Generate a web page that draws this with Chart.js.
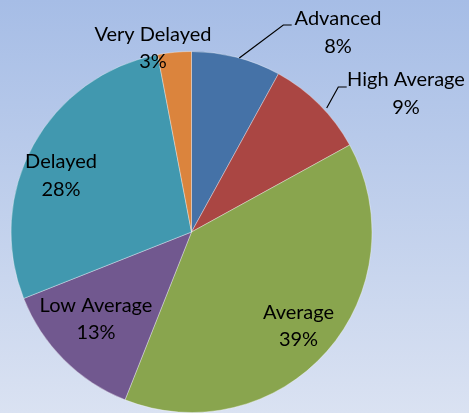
<!DOCTYPE html>
<html>
<head>
<meta charset="utf-8">
<script src="https://cdn.jsdelivr.net/npm/chart.js@4/dist/chart.umd.min.js"></script>
<style>
  html, body { margin: 0; padding: 0; background: #ffffff; }
  #wrap { width: 469px; height: 413px; }
</style>
</head>
<body>
<div id="wrap"><canvas id="c" width="469" height="413"></canvas></div>
<script>
// ---- data ----
const categories = ["Advanced", "High Average", "Average", "Low Average", "Delayed", "Very Delayed"];
const values = [8, 9, 39, 13, 28, 3];
const valueLabels = ["8%", "9%", "39%", "13%", "28%", "3%"];

// ---- styles ----
const sliceColors = ["#4572A7", "#AA4643", "#89A54E", "#71588F", "#4198AF", "#DB843D"];
// label centre offsets from pie centre (px) and optional leader lines
const labelLayout = [
  { dx: 146.5, dy: -199.5, leader: [[47.8, -174], [91.8, -207], [100.2, -207]] },
  { dx: 214.5, dy: -138.5, leader: [[135.2, -124], [146.8, -145], [155.2, -145]] },
  { dx: 107,   dy: 94 },
  { dx: -95.5, dy: 87 },
  { dx: -130.5, dy: -56.5 },
  { dx: -38.5, dy: -184 }
];
const labelFont = '20px Lato, "Open Sans", sans-serif';
const lineGap = 27.5;

const bgPlugin = {
  id: 'bg',
  beforeDraw(chart) {
    const ctx = chart.ctx;
    const g = ctx.createLinearGradient(0, 0, 0, chart.height);
    g.addColorStop(0, '#a6bde6');
    g.addColorStop(1, '#dae2f2');
    ctx.save();
    ctx.fillStyle = g;
    ctx.fillRect(0, 0, chart.width, chart.height);
    ctx.restore();
  }
};

const labelPlugin = {
  id: 'labels',
  afterDatasetsDraw(chart) {
    const ctx = chart.ctx;
    const arcs = chart.getDatasetMeta(0).data;
    ctx.save();
    arcs.forEach((arc, i) => {
      const cx = arc.x, cy = arc.y;
      const L = labelLayout[i];
      if (L.leader) {
        ctx.beginPath();
        ctx.strokeStyle = '#000000';
        ctx.lineWidth = 1.2;
        L.leader.forEach((p, k) => {
          if (k === 0) ctx.moveTo(cx + p[0], cy + p[1]);
          else ctx.lineTo(cx + p[0], cy + p[1]);
        });
        ctx.stroke();
      }
      ctx.fillStyle = '#000000';
      ctx.font = labelFont;
      ctx.textAlign = 'center';
      ctx.textBaseline = 'middle';
      const x = cx + L.dx, y = cy + L.dy;
      ctx.fillText(categories[i], x, y - lineGap / 2);
      ctx.fillText(valueLabels[i], x, y + lineGap / 2);
    });
    ctx.restore();
  }
};

new Chart(document.getElementById('c'), {
  type: 'pie',
  data: {
    labels: categories,
    datasets: [{
      data: values,
      backgroundColor: sliceColors,
      borderColor: 'rgba(255,255,255,0.35)',
      borderWidth: 1
    }]
  },
  options: {
    responsive: false,
    devicePixelRatio: 1,
    animation: false,
    layout: { padding: { left: 10, right: 96, top: 51, bottom: 0 } },
    plugins: {
      legend: { display: false },
      tooltip: { enabled: false }
    }
  },
  plugins: [bgPlugin, labelPlugin]
});
</script>
</body>
</html>
